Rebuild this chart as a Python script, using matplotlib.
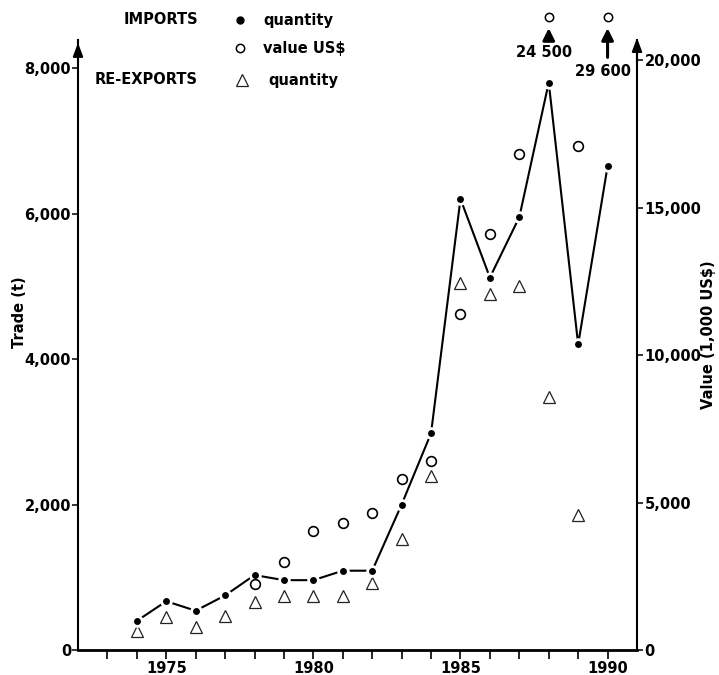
import numpy as np
import matplotlib.pyplot as plt
from matplotlib.lines import Line2D

plt.rcParams['font.family'] = ['DejaVu Sans']
plt.rcParams['font.weight'] = 'bold'

# imports, quantity (t)
imp_years = np.arange(1974, 1991)
imp_qty = [400, 670, 540, 750, 1030, 960, 960, 1090, 1090, 2000, 2980,
           6200, 5120, 5950, 7800, 4200, 6650]
# imports, value (1,000 US$)
val_years = np.arange(1978, 1991)
imp_val = [2250, 3000, 4050, 4300, 4650, 5800, 6400,
           11400, 14100, 16800, 24500, 17100, 29600]
# re-exports, quantity (t)
rex_years = np.arange(1974, 1990)
rex_qty = [260, 450, 320, 470, 660, 740, 740, 740, 920, 1520, 2390,
           5050, 4900, 5000, 3480, 1860]

year_ticks = np.arange(1973, 1991)
year_labels = [str(y) if y % 5 == 0 else '' for y in year_ticks]
trade_ticks = [0, 2000, 4000, 6000, 8000]
value_ticks = [0, 5000, 10000, 15000, 20000]

W, H = 719, 675
fig = plt.figure(figsize=(W / 100, H / 100), dpi=100)
ax = fig.add_axes([78 / W, 25 / H, 559 / W, 610 / H])
ax2 = ax.twinx()

ax.set_xlim(1972, 1991)
ax.set_ylim(0, 8385)
ax2.set_ylim(0, 20678)

fs = 10.5
# imports quantity line
ax.plot(imp_years, imp_qty, color='black', lw=1.5, marker='o', ms=7,
        mfc='black', mec='white', mew=2, zorder=3)
# re-exports triangles
ax.plot(rex_years, rex_qty, linestyle='none', marker='^', ms=9,
        mfc='none', mec='#222222', mew=0.9, zorder=2)

# value circles, on-scale and off-scale
top = ax2.get_ylim()[1]
vy = np.array(val_years)
vv = np.array(imp_val)
ok = vv <= top
ax2.plot(vy[ok], vv[ok], linestyle='none', marker='o', ms=7,
         mfc='none', mec='black', mew=1.2, zorder=4)
tr = ax2.get_xaxis_transform()
tails = [0.995, 0.967]
label_y = [0.980, 0.949]
for i, (yr, v) in enumerate(zip(vy[~ok], vv[~ok])):
    ax2.plot([yr], [1.037], transform=tr, marker='o', ms=6, mfc='none',
             mec='black', mew=1.1, clip_on=False)
    ax2.annotate('', xy=(yr, 1.024), xycoords=tr, xytext=(yr, tails[i]),
                 textcoords=tr,
                 arrowprops=dict(arrowstyle='-|>,head_length=0.7,head_width=0.35',
                                 color='black', lw=2.2),
                 annotation_clip=False)
    ax2.text(yr - 0.15, label_y[i], f'{v:,}'.replace(',', ' '), transform=tr,
             ha='center', va='center', fontsize=fs, fontweight='bold')

# axes styling
for a in (ax, ax2):
    a.spines['top'].set_visible(False)
ax.spines['right'].set_visible(False)
ax2.spines['left'].set_visible(False)
ax2.spines['bottom'].set_visible(False)
ax.spines['left'].set_linewidth(1.5)
ax2.spines['right'].set_linewidth(1.5)
ax.spines['bottom'].set_linewidth(2)

ax.set_xticks(year_ticks)
ax.set_xticklabels(year_labels)
ax.tick_params(axis='x', direction='out', length=6.5, width=1.2, pad=1.5,
               labelsize=fs)
ax.set_yticks(trade_ticks)
ax.set_yticklabels([f'{t:,}' for t in trade_ticks])
ax.tick_params(axis='y', direction='out', length=4, width=1.1, pad=1,
               labelsize=fs)
ax2.set_yticks(value_ticks)
ax2.set_yticklabels([f'{t:,}' for t in value_ticks])
ax2.tick_params(axis='y', direction='out', length=4, width=1.1, pad=1.5,
                labelsize=fs)

# arrowheads on the vertical axes
ax.annotate('', xy=(0, 1.0), xycoords='axes fraction', xytext=(0, 0.96),
            arrowprops=dict(arrowstyle='-|>,head_length=0.8,head_width=0.3',
                            color='black', lw=1.5), annotation_clip=False)
ax2.annotate('', xy=(1, 1.008), xycoords='axes fraction', xytext=(1, 0.96),
             arrowprops=dict(arrowstyle='-|>,head_length=0.8,head_width=0.3',
                             color='black', lw=1.5), annotation_clip=False)

fig.text(20 / W, 1 - 312 / H, 'Trade (t)', rotation=90, ha='center',
         va='center', fontsize=fs, fontweight='bold')
fig.text(709 / W, 1 - 335 / H, 'Value (1,000 US$)', rotation=90,
         ha='center', va='center', fontsize=fs, fontweight='bold')

# legend block at the top
def px(x, y):
    return x / W, 1 - y / H

fig.text(*px(198, 20), 'IMPORTS', ha='right', va='center', fontsize=fs)
fig.text(*px(198, 80), 'RE-EXPORTS', ha='right', va='center', fontsize=fs)
fig.text(*px(263, 20), 'quantity', ha='left', va='center', fontsize=fs)
fig.text(*px(263, 48), 'value US$', ha='left', va='center', fontsize=fs)
fig.text(*px(268, 80), 'quantity', ha='left', va='center', fontsize=fs)
fig.add_artist(Line2D([240 / W], [1 - 20 / H], marker='o', ms=5,
                      color='black', transform=fig.transFigure))
fig.add_artist(Line2D([240 / W], [1 - 48 / H], marker='o', ms=6, mfc='none',
                      mec='black', mew=1.1, transform=fig.transFigure))
fig.add_artist(Line2D([242 / W], [1 - 80 / H], marker='^', ms=9, mfc='none',
                      mec='#222222', mew=0.9, transform=fig.transFigure))

fig.savefig('out.png', dpi=100)
